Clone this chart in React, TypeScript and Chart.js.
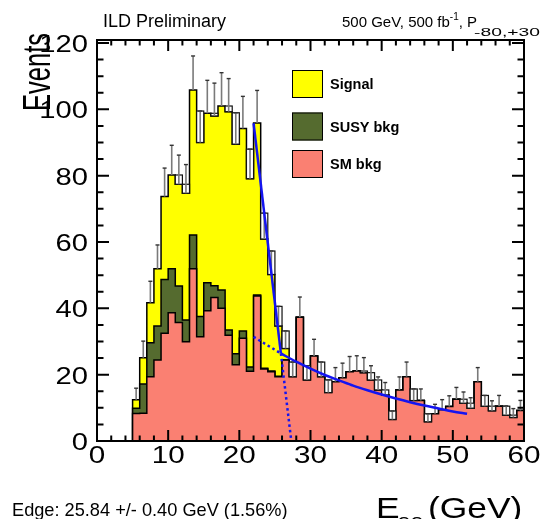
import React, { useEffect, useRef } from "react";
import { Chart, registerables } from "chart.js";

Chart.register(...registerables);

// ---- data (1 GeV bins, lower edges) ----
const binLowEdges = [5, 6, 7, 8, 9, 10, 11, 12, 13, 14, 15, 16, 17, 18, 19, 20, 21, 22, 23, 24, 25, 26, 27, 28, 29, 30, 31, 32, 33, 34, 35, 36, 37, 38, 39, 40, 41, 42, 43, 44, 45, 46, 47, 48, 49, 50, 51, 52, 53, 54, 55, 56, 57, 58, 59];
const binWidth = 1;
const smBkg = [8.3, 8.4, 19.4, 24.4, 32.5, 38.7, 35.7, 29.9, 51.9, 31.4, 39.3, 43.3, 40.0, 31.9, 23.0, 31.0, 21.0, 43.7, 21.7, 20.9, 19.4, 24.4, 19.4, 37.3, 18.4, 25.6, 19.4, 14.6, 17.9, 19.1, 20.9, 21.1, 20.6, 18.4, 15.4, 13.9, 6.5, 15.4, 19.4, 12.2, 12.2, 5.8, 8.2, 9.4, 10.4, 12.6, 11.4, 9.9, 17.9, 10.5, 9.1, 10.5, 7.8, 7.1, 9.2];
const susyBkg = [1.6, 8.8, 10.2, 10.3, 16.2, 13.2, 11.0, 6.6, 10.2, 6.1, 8.4, 3.5, 5.5, 1.6, 3.3, 2.2, 1.3, 0.3, 0.2, 0.2, 0.1, 0, 0, 0, 0, 0, 0, 0, 0, 0, 0, 0, 0, 0, 0, 0, 0, 0, 0, 0, 0, 0, 0, 0, 0, 0, 0, 0, 0, 0, 0, 0, 0, 0, 0];
const signal = [2.5, 7.9, 12.1, 17.2, 25.0, 28.3, 30.7, 38.2, 43.7, 52.5, 51.1, 51.2, 55.5, 65.8, 63.2, 61.0, 56.8, 51.9, 39.0, 29.1, 15.2, 3.5, 0, 0, 0, 0, 0, 0, 0, 0, 0, 0, 0, 0, 0, 0, 0, 0, 0, 0, 0, 0, 0, 0, 0, 0, 0, 0, 0, 0, 0, 0, 0, 0, 0];

// fit curves
const edgeFitX = [22, 25.84];
const edgeFitY = [95.8, 26.4];
const bkgFitX = [25.84, 28, 30, 32, 34, 36, 38, 40, 42, 44, 46, 48, 50, 52];
const bkgFitY = [26.4, 23.9, 21.8, 19.9, 18.3, 16.7, 15.3, 14.0, 12.8, 11.7, 10.7, 9.8, 8.9, 8.2];
const bkgExtX = [22, 24, 25.84];
const bkgExtY = [31.4, 28.8, 26.4];
const edgeExtX = [25.84, 27.3];
const edgeExtY = [26.4, 0];

const xTickLabels = [0, 10, 20, 30, 40, 50, 60];
const yTickLabels = [0, 20, 40, 60, 80, 100, 120];
const xMinorStep = 2;
const yMinorStep = 5;
const legendLabels = ["Signal", "SUSY bkg", "SM bkg"];

const YELLOW = "#ffff00";
const GREEN = "#556b2f";
const SALMON = "#fa8072";
const BLUE = "#1414f0";
const FONT = "'Liberation Sans', Arial, Helvetica, sans-serif";

const smTop = smBkg.slice();
const susyTop = smBkg.map((v, i) => v + susyBkg[i]);
const totalTop = susyTop.map((v, i) => v + signal[i]);

function stepPoints(vals: number[]) {
  const pts = [{ x: binLowEdges[0], y: 0 }];
  vals.forEach((v, i) => pts.push({ x: binLowEdges[i], y: v }));
  pts.push({ x: binLowEdges[vals.length - 1] + binWidth, y: 0 });
  return pts;
}
function pairs(xs: number[], ys: number[]) {
  return xs.map((x, i) => ({ x, y: ys[i] }));
}

function txt(ctx: CanvasRenderingContext2D, s: string, x: number, y: number, size: number, opts: any = {}) {
  ctx.save();
  ctx.translate(x, y);
  if (opts.rot) ctx.rotate(opts.rot);
  ctx.scale(opts.sx || 1, opts.sy || 1);
  ctx.font = `${opts.bold ? "bold " : ""}${size}px ${FONT}`;
  ctx.fillStyle = "#000";
  ctx.textAlign = opts.align || "left";
  ctx.textBaseline = opts.base || "alphabetic";
  ctx.fillText(s, 0, 0);
  const w = ctx.measureText(s).width * (opts.sx || 1);
  ctx.restore();
  return w;
}

const decorPlugin = {
  id: "decor",
  afterDatasetDraw(chart: any, args: any) {
    if (args.index !== 0) return;
    const ctx = chart.ctx;
    const xs = chart.scales.x;
    const ys = chart.scales.y;
    ctx.save();
    totalTop.forEach((T, i) => {
      const lo = binLowEdges[i];
      const err = Math.sqrt(T);
      const prev = i > 0 ? totalTop[i - 1] : 0;
      const xl = xs.getPixelForValue(lo);
      const xr = xs.getPixelForValue(lo + binWidth);
      const xc = xs.getPixelForValue(lo + binWidth / 2);
      if (prev > T) {
        const top = Math.min(prev, T + err);
        const y0 = ys.getPixelForValue(T);
        const y1 = ys.getPixelForValue(top);
        ctx.fillStyle = "#fff";
        ctx.fillRect(xl, y1, xr - xl, y0 - y1);
        ctx.strokeStyle = "#111";
        ctx.lineWidth = 1.2;
        ctx.strokeRect(xl, y1, xr - xl, y0 - y1);
      }
      const yT = ys.getPixelForValue(T);
      const yE = ys.getPixelForValue(T + err);
      ctx.strokeStyle = "#7a7a7a";
      ctx.lineWidth = 1.6;
      ctx.beginPath();
      ctx.moveTo(xc, yT);
      ctx.lineTo(xc, yE);
      ctx.stroke();
      ctx.strokeStyle = "#333";
      ctx.lineWidth = 1.4;
      ctx.beginPath();
      ctx.moveTo(xc - 2, yE);
      ctx.lineTo(xc + 2, yE);
      ctx.stroke();
    });
    ctx.restore();
  },
  afterDraw(chart: any) {
    const ctx = chart.ctx;
    const xs = chart.scales.x;
    const ys = chart.scales.y;
    const a = chart.chartArea;
    ctx.save();
    // frame
    ctx.strokeStyle = "#000";
    ctx.lineWidth = 2;
    ctx.strokeRect(a.left, a.top, a.right - a.left, a.bottom - a.top);
    // x ticks (bottom & top)
    ctx.lineWidth = 2;
    for (let v = xs.min; v <= xs.max + 1e-9; v += xMinorStep) {
      const major = xTickLabels.includes(Math.round(v));
      const len = major ? 11 : 5.5;
      const px = xs.getPixelForValue(v);
      ctx.beginPath();
      ctx.moveTo(px, a.bottom);
      ctx.lineTo(px, a.bottom - len);
      ctx.moveTo(px, a.top);
      ctx.lineTo(px, a.top + len);
      ctx.stroke();
    }
    for (let v = ys.min; v <= ys.max + 1e-9; v += yMinorStep) {
      const major = yTickLabels.includes(Math.round(v));
      const len = major ? 12 : 6.5;
      const py = ys.getPixelForValue(v);
      ctx.beginPath();
      ctx.moveTo(a.left, py);
      ctx.lineTo(a.left + len, py);
      ctx.moveTo(a.right, py);
      ctx.lineTo(a.right - len, py);
      ctx.stroke();
    }
    // tick labels
    xTickLabels.forEach((v) => {
      const px = xs.getPixelForValue(v);
      txt(ctx, String(v), px, a.bottom + 21.5, 24.3, { align: "center", sx: 1.22 });
    });
    yTickLabels.forEach((v) => {
      const py = ys.getPixelForValue(v);
      txt(ctx, String(v), a.left - 9, py + 9, 24.3, { align: "right", sx: 1.2 });
    });
    // axis titles
    txt(ctx, "Events", 50, 33, 25.5, { rot: -Math.PI / 2, align: "right", sy: 1.55 });
    let x = 376;
    x += txt(ctx, "E", x, 517.5, 29, { sx: 1.22 });
    txt(ctx, "ee", x - 2, 526.5, 19, { sx: 1.22 });
    txt(ctx, "(GeV)", 428, 517.5, 29, { sx: 1.22 });
    // header texts
    txt(ctx, "ILD Preliminary", 103, 26.5, 18);
    let rx = 342;
    rx += txt(ctx, "500 GeV, 500 fb", rx, 26.5, 15);
    rx += txt(ctx, "-1", rx, 20, 10);
    rx += txt(ctx, ", P", rx, 26.5, 15);
    txt(ctx, "-80,+30", rx - 3, 35.5, 11, { sx: 1.75 });
    txt(ctx, "Edge: 25.84 +/- 0.40 GeV (1.56%)", 12, 515.5, 18.2);
    // legend
    const colors = [YELLOW, GREEN, SALMON];
    const tops = [70, 112.5, 150];
    legendLabels.forEach((lab, i) => {
      ctx.fillStyle = colors[i];
      ctx.fillRect(292, tops[i], 31, 28);
      ctx.strokeStyle = "#000";
      ctx.lineWidth = 1;
      ctx.strokeRect(292.5, tops[i] + 0.5, 30, 27);
      txt(ctx, lab, 330, tops[i] + 19, 14.5, { bold: true });
    });
    ctx.restore();
  },
};

export default function App() {
  const ref = useRef<HTMLCanvasElement | null>(null);
  useEffect(() => {
    if (!ref.current) return;
    const common = { pointRadius: 0, pointHoverRadius: 0, borderWidth: 1.5, borderColor: "#000", stepped: true, order: 0 };
    const chart = new Chart(ref.current, {
      type: "line",
      data: {
        datasets: [
          { ...common, label: "SM bkg", data: stepPoints(smTop), fill: "origin", backgroundColor: SALMON },
          { ...common, label: "SUSY bkg", data: stepPoints(susyTop), fill: "origin", backgroundColor: GREEN },
          { ...common, label: "Signal", data: stepPoints(totalTop), fill: "origin", backgroundColor: YELLOW },
          { label: "edge fit", data: pairs(edgeFitX, edgeFitY), borderColor: BLUE, borderWidth: 2.5, pointRadius: 0, fill: false, order: -1 },
          { label: "bkg fit", data: pairs(bkgFitX, bkgFitY), borderColor: BLUE, borderWidth: 2.5, pointRadius: 0, fill: false, cubicInterpolationMode: "monotone", order: -1 },
          { label: "bkg ext", data: pairs(bkgExtX, bkgExtY), borderColor: BLUE, borderWidth: 2.5, borderDash: [2.5, 3], pointRadius: 0, fill: false, cubicInterpolationMode: "monotone", order: -1 },
          { label: "edge ext", data: pairs(edgeExtX, edgeExtY), borderColor: BLUE, borderWidth: 2.5, borderDash: [2.5, 3], pointRadius: 0, fill: false, order: -1 },
        ] as any,
      },
      options: {
        responsive: false,
        animation: false,
        events: [],
        layout: { padding: { left: 97, right: 17, top: 40, bottom: 78 } },
        plugins: { legend: { display: false }, tooltip: { enabled: false }, title: { display: false } },
        scales: {
          x: { type: "linear", min: 0, max: 60, display: false },
          y: { type: "linear", min: 0, max: 120.9, display: false },
        },
      },
      plugins: [decorPlugin],
    });
    return () => chart.destroy();
  }, []);
  return (
    <div style={{ position: "fixed", left: 0, top: 0, width: 541, height: 519, background: "#fff" }}>
      <canvas ref={ref} width={541} height={519} style={{ width: 541, height: 519, display: "block" }} />
    </div>
  );
}
